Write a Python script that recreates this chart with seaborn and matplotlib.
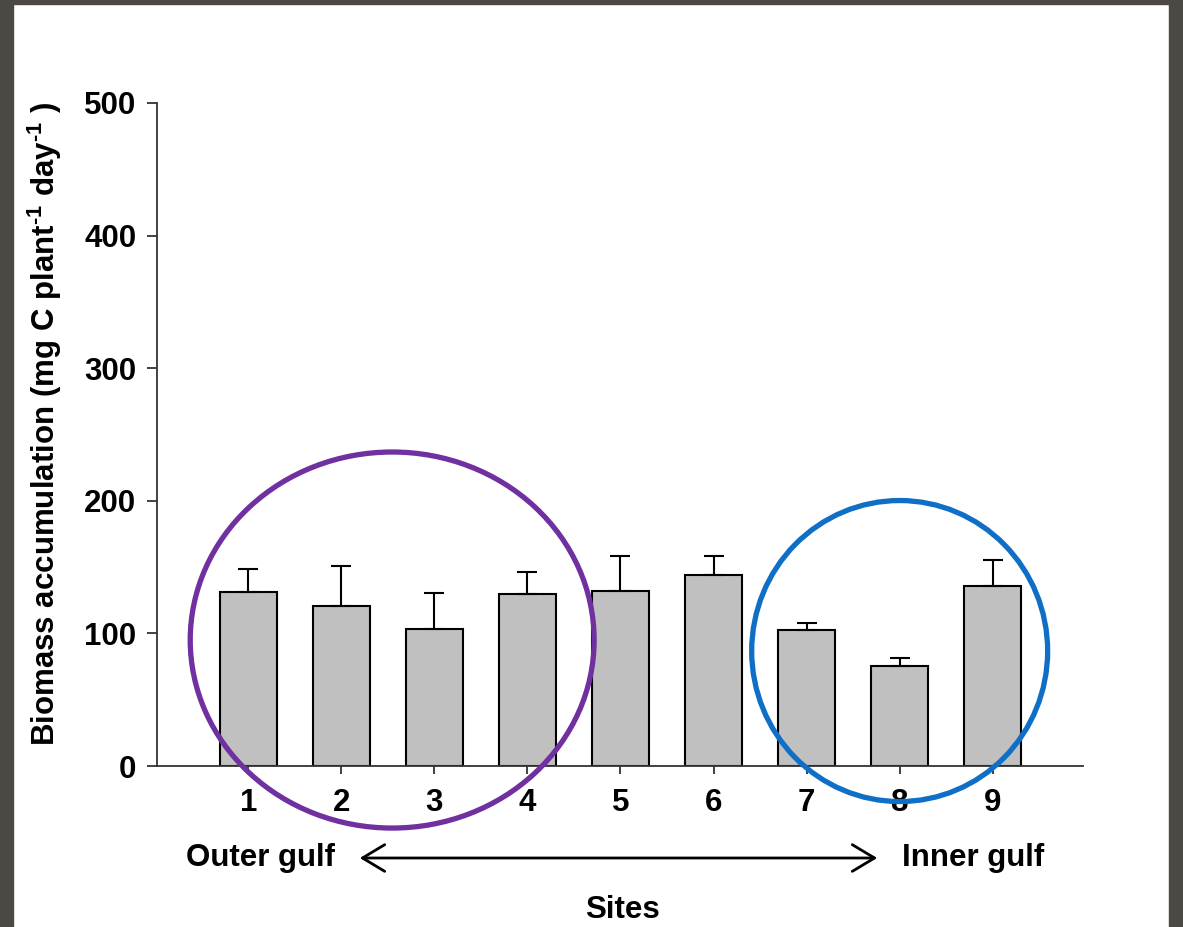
import matplotlib
matplotlib.use('Agg')
import matplotlib.pyplot as plt
import seaborn as sns
import pandas as pd
from matplotlib.patches import Ellipse, Rectangle

sites = ['1', '2', '3', '4', '5', '6', '7', '8', '9']
biomass = [131, 121, 103.5, 130, 132, 144, 102.5, 75.5, 136]
se = [17.5, 29.5, 27, 16, 26, 14.5, 5, 6, 19]
yticks = [0, 100, 200, 300, 400, 500]

sns.set_theme(style='ticks')
plt.rcParams['font.family'] = ['Liberation Sans', 'DejaVu Sans']
plt.rcParams['font.weight'] = 'bold'
plt.rcParams['text.color'] = 'black'
plt.rcParams['mathtext.fontset'] = 'custom'
plt.rcParams['mathtext.rm'] = 'Liberation Sans:bold'
plt.rcParams['mathtext.bf'] = 'Liberation Sans:bold'
plt.rcParams['mathtext.it'] = 'Liberation Sans:bold'
plt.rcParams['mathtext.default'] = 'rm'

FS = 22.5
W, H = 1183, 927
fig = plt.figure(figsize=(W / 100, H / 100), dpi=100)
fig.patch.set_facecolor('white')
ax = fig.add_axes([157 / W, 161 / H, 926 / W, 663 / H])
ax.set_facecolor('white')

df = pd.DataFrame({'site': sites, 'biomass': biomass})
sns.barplot(data=df, x='site', y='biomass', color='#c0c0c0', edgecolor='black',
            linewidth=1.5, width=0.61, errorbar=None, saturation=1, ax=ax, zorder=2)
ax.errorbar(range(len(sites)), biomass, yerr=[[0] * len(se), se], fmt='none',
            ecolor='black', elinewidth=1.5, capsize=7.5, capthick=1.5, zorder=3)

ax.set_xlim(-0.98, 8.97)
ax.set_ylim(0, 500)
ax.set_yticks(yticks)
ax.set_yticklabels([str(t) for t in yticks])
ax.set_xlabel('')
ax.set_ylabel('')
for s in ['top', 'right']:
    ax.spines[s].set_visible(False)
for s in ['left', 'bottom']:
    ax.spines[s].set_color('#333333')
    ax.spines[s].set_linewidth(1.3)
ax.tick_params(axis='y', direction='out', length=7, width=1.3, color='#333333',
               labelsize=FS, pad=8, labelcolor='black')
ax.tick_params(axis='x', direction='out', length=6, width=1.3, color='#333333',
               labelsize=FS, pad=10, labelcolor='black')
for lab in ax.get_xticklabels() + ax.get_yticklabels():
    lab.set_fontweight('bold')

# highlight circles
ax.add_patch(Ellipse((1.547, 95), 4.34, 283.6, fill=False, edgecolor='#7030a0',
                     lw=3.8, clip_on=False, zorder=6))
ax.add_patch(Ellipse((7.0, 86.7), 3.18, 227, fill=False, edgecolor='#0f6fc6',
                     lw=3.8, clip_on=False, zorder=6))

# axis texts
fig.text(45 / W, 1 - 424 / H,
         r'Biomass accumulation (mg C plant$^{\text{-}1}$ day$^{\text{-}1}$ )',
         rotation=90, ha='center', va='center', fontsize=FS, fontweight='bold', color='black')
ya = 1 - 858 / H
fig.text(335 / W, ya, 'Outer gulf', ha='right', va='center', fontsize=FS, fontweight='bold', color='black')
fig.text(902 / W, ya, 'Inner gulf', ha='left', va='center', fontsize=FS, fontweight='bold', color='black')
fig.text(623 / W, 1 - 910 / H, 'Sites', ha='center', va='center', fontsize=FS, fontweight='bold', color='black')
fig.add_artist(matplotlib.patches.FancyArrowPatch(
    (357 / W, ya), (880 / W, ya), transform=fig.transFigure,
    arrowstyle='<->,head_length=1.0,head_width=0.6', mutation_scale=16,
    lw=2, color='black'))

# slide frame
frame = '#4c4843'
fig.add_artist(Rectangle((0, 0), 13 / W, 1, transform=fig.transFigure, color=frame, zorder=10))
fig.add_artist(Rectangle((0, 1 - 4 / H), 1, 4 / H, transform=fig.transFigure, color=frame, zorder=10))
fig.add_artist(Rectangle((1169 / W, 0), 14 / W, 1, transform=fig.transFigure, color=frame, zorder=10))

fig.savefig('out.png', dpi=100, facecolor='white')
